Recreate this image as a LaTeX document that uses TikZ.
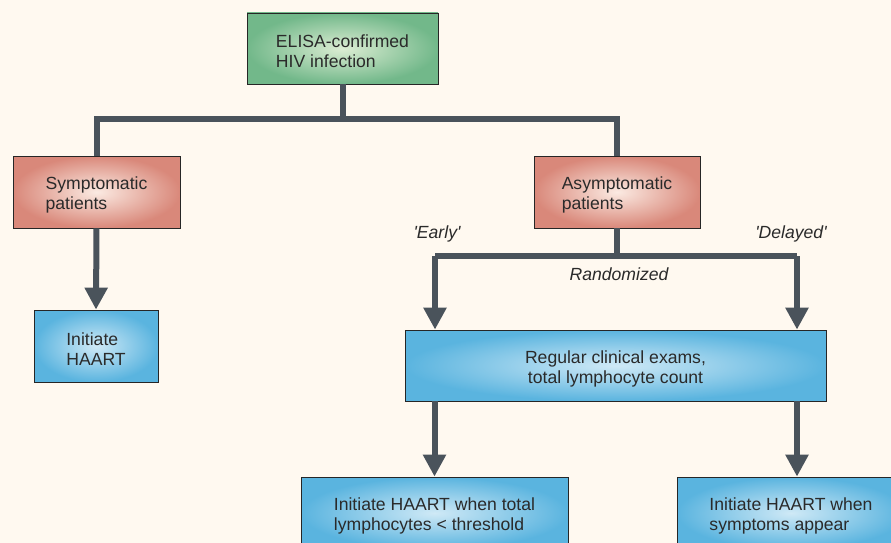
\documentclass[tikz,border=0pt]{standalone}
\usepackage{fontspec}
\setmainfont{Liberation Sans}
\usetikzlibrary{arrows.meta}
\definecolor{bgc}{HTML}{FFF9F0}
\definecolor{linec}{HTML}{4A535B}
\definecolor{gEdge}{HTML}{72B88A}
\definecolor{gIn}{HTML}{DCEDD3}
\definecolor{rEdge}{HTML}{D9887A}
\definecolor{rIn}{HTML}{FBEAE2}
\definecolor{bEdge}{HTML}{5AB4DF}
\definecolor{bIn}{HTML}{CFE9F6}
\definecolor{txt}{HTML}{2A2A2A}
\newcommand{\topgap}{\rule{0pt}{19pt}}
\tikzset{
  box/.style={draw=black!85, line width=0.8pt, inner sep=0pt, minimum height=72pt,
    align=left, font=\fontsize{17.6}{20}\selectfont, text=txt},
  greenbox/.style={box, inner color=gIn, outer color=gEdge},
  redbox/.style={box, inner color=rIn, outer color=rEdge},
  bluebox/.style={box, inner color=bIn, outer color=bEdge},
  conn/.style={draw=linec, line width=6pt, line join=miter},
  arr/.style={conn, -{Triangle[length=22pt,width=22pt]}},
  lbl/.style={font=\fontsize{17.6}{20}\selectfont\itshape, text=txt}
}
\begin{document}
\begin{tikzpicture}[x=1pt,y=-1pt]
\useasboundingbox (0,0) rectangle (891,543);
\clip (0,0) rectangle (891,543);
\fill[bgc] (0,0) rectangle (891,543);

\node[greenbox, minimum width=191pt, minimum height=71pt] (elisa) at (342.5,48.5) {\topgap ELISA-confirmed\\HIV infection};
\node[redbox, minimum width=167pt] (symp) at (96.5,192) {\topgap Symptomatic\\patients};
\node[redbox, minimum width=166pt] (asym) at (617,192) {\topgap Asymptomatic\\patients};
\node[bluebox, minimum width=124pt] (haart) at (96,346) {\topgap Initiate\\HAART};
\node[bluebox, minimum width=421pt, minimum height=71pt, align=center] (reg) at (615.5,365.5) {\topgap Regular clinical exams,\\total lymphocyte count};
\node[bluebox, minimum width=267pt] (bl) at (434.5,513) {\topgap Initiate HAART when total\\lymphocytes < threshold};
\node[bluebox, minimum width=228pt] (br) at (791,513) {\topgap Initiate HAART when\\symptoms appear};

\coordinate (j1) at (343,119);
\coordinate (j2) at (617,256);
\coordinate (eL) at (435,256);
\coordinate (dR) at (797,256);

\draw[conn] (elisa.south -| j1) -- (j1);
\draw[conn] (symp.north) |- (j1) -| (asym.north);
\draw[arr] (symp.south) -- (haart.north);
\draw[conn] (asym.south) -- (j2);
\draw[conn] (eL) -- (dR);
\draw[arr] (eL) -- (eL |- reg.north);
\draw[arr] (dR) -- (dR |- reg.north);
\draw[arr] (bl.north |- reg.south) -- (bl.north);
\draw[arr] (dR |- reg.south) -- (dR |- br.north);

\node[lbl] (early) at (437,234) {\textquotesingle Early\textquotesingle};
\node[lbl] (delayed) at (791,234) {\textquotesingle Delayed\textquotesingle};
\node[lbl] (rand) at (619,274) {Randomized};
\end{tikzpicture}
\end{document}
